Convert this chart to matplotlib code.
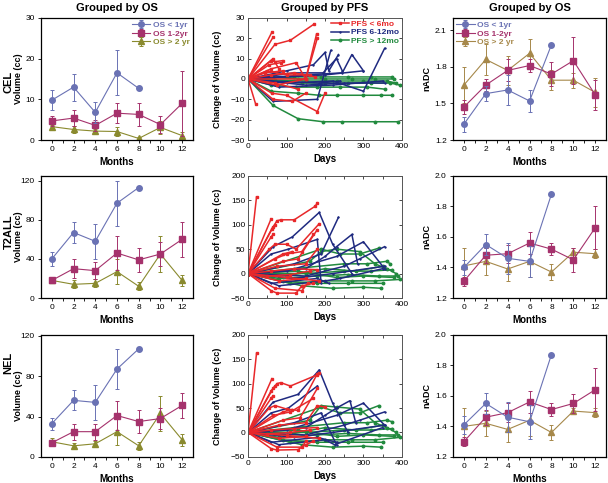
import matplotlib
matplotlib.use("Agg")
import matplotlib.pyplot as plt
import numpy as np

plt.rcParams['font.family'] = ['Liberation Sans', 'DejaVu Sans']

# ---- grouped-by-OS data (months) ----
months_short = [0, 2, 4, 6, 8]
months = [0, 2, 4, 6, 8, 10, 12]

cel_os1 = [9.8, 13.0, 6.8, 16.5, 12.7]
cel_os1_err = [2.4, 3.3, 2.5, 5.5, 0.3]
cel_os12 = [4.7, 5.4, 3.6, 6.6, 6.3, 3.8, 9.0]
cel_os12_err = [1.2, 2.0, 1.3, 2.5, 2.8, 2.0, 8.0]
cel_os2 = [3.3, 2.6, 2.2, 2.1, 0.4, 3.1, 1.1]
cel_os2_err = [0.5, 0.8, 0.6, 1.0, 0.3, 1.5, 1.0]

t2_os1 = [40, 67, 58, 97, 113]
t2_os1_err = [7, 11, 18, 23, 2]
t2_os12 = [18, 30, 28, 46, 39, 45, 60]
t2_os12_err = [3, 10, 9, 17, 12, 12, 18]
t2_os2 = [18, 14, 15, 27, 12, 45, 18]
t2_os2_err = [3, 4, 4, 13, 4, 18, 6]

nel_os1 = [33, 56, 54, 87, 107]
nel_os1_err = [6, 10, 17, 20, 1]
nel_os12 = [14, 25, 25, 41, 35, 38, 51]
nel_os12_err = [3, 8, 8, 14, 11, 10, 12]
nel_os2 = [15, 11, 13, 25, 11, 43, 17]
nel_os2_err = [4, 3, 3, 13, 4, 17, 6]

adc_cel_os1 = [1.33, 1.58, 1.61, 1.52, 1.98]
adc_cel_os1_err = [0.06, 0.06, 0.12, 0.09, 0.01]
adc_cel_os12 = [1.47, 1.65, 1.77, 1.81, 1.74, 1.85, 1.57]
adc_cel_os12_err = [0.06, 0.05, 0.09, 0.05, 0.10, 0.19, 0.12]
adc_cel_os2 = [1.65, 1.86, 1.77, 1.91, 1.69, 1.69, 1.59]
adc_cel_os2_err = [0.15, 0.13, 0.12, 0.12, 0.08, 0.06, 0.12]

adc_t2_os1 = [1.40, 1.55, 1.46, 1.44, 1.88]
adc_t2_os1_err = [0.05, 0.07, 0.10, 0.10, 0.005]
adc_t2_os12 = [1.31, 1.48, 1.49, 1.56, 1.52, 1.45, 1.66]
adc_t2_os12_err = [0.03, 0.05, 0.06, 0.07, 0.04, 0.08, 0.14]
adc_t2_os2 = [1.41, 1.44, 1.39, 1.44, 1.37, 1.50, 1.49]
adc_t2_os2_err = [0.12, 0.09, 0.08, 0.10, 0.05, 0.03, 0.03]

adc_nel_os1 = [1.41, 1.55, 1.46, 1.43, 1.87]
adc_nel_os1_err = [0.06, 0.07, 0.10, 0.11, 0.005]
adc_nel_os12 = [1.30, 1.46, 1.49, 1.56, 1.51, 1.55, 1.64]
adc_nel_os12_err = [0.03, 0.05, 0.06, 0.07, 0.04, 0.06, 0.14]
adc_nel_os2 = [1.40, 1.42, 1.38, 1.44, 1.36, 1.50, 1.49]
adc_nel_os2_err = [0.12, 0.08, 0.08, 0.10, 0.05, 0.02, 0.03]

# ---- grouped-by-PFS data (days, change of volume) ----
cel_pfs6 = [
    ([0, 62], [0, 23]),
    ([0, 65], [0, 20.5]),
    ([0, 70, 110, 172], [0, 17, 19, 27]),
    ([0, 60, 70, 90], [0, 9, 8.5, 9]),
    ([0, 55, 85], [0, 7, 8]),
    ([0, 60, 125, 150, 178], [0, 5, 8, 0, 22]),
    ([0, 150, 180], [0, 0, 20]),
    ([0, 20], [0, -12.5]),
    ([0, 65, 115, 150], [0, -10, -11, -7]),
    ([0, 62, 100, 180, 200], [0, -7, -8, -16, -7]),
    ([0, 70, 130], [0, -2, -5]),
    ([0, 60, 120, 175], [0, 2, 3, 1]),
    ([0, 50, 100, 160], [0, 4, 2, 2]),
    ([0, 75, 150], [0, -3, 0]),
    ([0, 65, 80], [0, 10, 5]),
    ([0, 45, 90], [0, 3, 4]),
]
cel_pfs12 = [
    ([0, 65, 180, 215], [0, -11, -10, 14]),
    ([0, 100, 170, 200, 210, 235], [0, 4, 7, 13, 4, 12]),
    ([0, 120, 195, 230, 245], [0, 3, 3, 10, 4]),
    ([0, 150, 245, 270, 300], [0, 2, 3, 12, 4]),
    ([0, 200, 300], [0, 2, 4]),
    ([0, 100, 220, 300, 355], [0, -2, -1, -6, 15]),
    ([0, 150, 250, 355], [0, -3, -2, -2]),
    ([0, 60, 185, 240], [0, -1, -2, -1]),
    ([0, 80, 220, 350], [0, -4, -3, -1]),
]
cel_pfs_gt12 = [
    ([0, 65, 130, 195, 245, 330, 390], [0, -13, -19.5, -21, -21, -21, -21]),
    ([0, 60, 130, 185, 230, 300, 345, 375], [0, -6, -7, -8, -8, -8, -8, -8]),
    ([0, 60, 125, 180, 240, 310, 355], [0, -3, -4, -4, -4, -4, -5]),
    ([0, 70, 140, 200, 260, 320, 370, 395], [0, -1, -2, -2, -2, -2, -2, -3]),
    ([0, 65, 130, 200, 270, 330, 380], [0, 1, 0, 0, 0, 0, 0]),
    ([0, 60, 120, 190, 260, 320, 375], [0, 0.5, 1, 1, 1, 1, 1]),
    ([0, 70, 150, 230, 300, 360, 385], [0, -0.5, -1, -1, -1, -1, -2]),
]

t2_pfs6 = [
    ([0, 22], [0, 157]),
    ([0, 60], [0, 112]),
    ([0, 65, 75, 85, 120, 175, 180], [0, 95, 108, 110, 110, 138, 145]),
    ([0, 62, 70], [0, 92, 100]),
    ([0, 60, 65], [0, 75, 80]),
    ([0, 55, 70, 100, 125, 185], [0, 50, 60, 60, 50, 102]),
    ([0, 70, 100, 140, 170], [0, 30, 40, 45, 80]),
    ([0, 90, 130, 180], [0, 25, 30, 90]),
    ([0, 75, 150, 180], [0, 15, 20, 50]),
    ([0, 60, 120, 180], [0, 5, 10, 8]),
    ([0, 60, 75, 125, 140, 170], [0, -35, -40, -40, -25, -20]),
    ([0, 70, 140, 155], [0, -30, -35, -20]),
    ([0, 80, 150], [0, -15, -10]),
    ([0, 50, 110, 160], [0, -5, -2, 5]),
    ([0, 90, 115], [0, 40, 45]),
    ([0, 100, 185], [0, -8, -15]),
]
t2_pfs12 = [
    ([0, 65, 115, 185, 220, 270], [0, 55, 75, 125, 60, 0]),
    ([0, 60, 105, 180, 190], [0, 40, 50, 70, -20]),
    ([0, 120, 190, 235], [0, 20, 40, 115]),
    ([0, 150, 200, 230, 270, 285], [0, 10, 35, 55, 80, 20]),
    ([0, 100, 230, 300, 355], [0, 5, 35, 65, 10]),
    ([0, 150, 250, 290, 355], [0, -5, 15, 30, 55]),
    ([0, 80, 200, 240, 350], [0, -25, -15, -10, 10]),
    ([0, 120, 220, 355], [0, -10, 0, 15]),
    ([0, 60, 180, 210], [0, -20, -10, -20]),
]
t2_pfs_gt12 = [
    ([0, 160, 190, 230, 290, 330, 360], [0, 25, 45, 50, 45, 20, 10]),
    ([0, 190, 240, 290, 340], [0, 50, 40, 40, 52]),
    ([0, 120, 250, 310, 360, 370], [0, 10, 20, 20, 25, 20]),
    ([0, 100, 200, 280, 350, 385], [0, -5, 10, 5, 15, 0]),
    ([0, 80, 180, 260, 340, 390], [0, -10, -5, -2, -5, -5]),
    ([0, 110, 200, 270, 330, 395], [0, -20, -15, -15, -15, -12]),
    ([0, 140, 220, 300, 345], [0, -25, -30, -28, -30]),
    ([0, 90, 180, 260, 350], [0, -15, -20, -20, -20]),
    ([0, 150, 250, 320, 375], [0, 0, 5, 5, 8]),
    ([0, 130, 230, 300, 380], [0, 5, -8, -5, -8]),
]

nel_pfs6 = [
    ([0, 22], [0, 162]),
    ([0, 62], [0, 110]),
    ([0, 65, 75, 85, 110, 180, 185], [0, 90, 100, 102, 95, 118, 122]),
    ([0, 60, 70], [0, 85, 95]),
    ([0, 60, 65], [0, 70, 75]),
    ([0, 55, 70, 100, 130, 180], [0, 50, 55, 48, 45, 120]),
    ([0, 65, 110, 170], [0, 35, 42, 70]),
    ([0, 90, 135, 180], [0, 25, 30, 90]),
    ([0, 80, 150, 180, 200], [0, 15, 20, 55, 52]),
    ([0, 60, 120, 180], [0, 5, 8, 10]),
    ([0, 60, 75, 130, 150, 170], [0, -33, -36, -35, -25, -18]),
    ([0, 75, 140, 150], [0, -30, -30, -18]),
    ([0, 80, 150], [0, -12, -8]),
    ([0, 50, 110, 160], [0, -3, 0, 5]),
    ([0, 90, 115], [0, 42, 47]),
    ([0, 100, 185], [0, -6, -12]),
]
nel_pfs12 = [
    ([0, 65, 130, 185, 220, 260], [0, 62, 78, 128, 60, 0]),
    ([0, 60, 105, 180], [0, 40, 50, 95]),
    ([0, 120, 190, 230], [0, 20, 40, -25]),
    ([0, 150, 200, 230, 265, 280], [0, 10, 35, 50, 65, 20]),
    ([0, 100, 230, 300, 355], [0, 5, 35, 60, 15]),
    ([0, 150, 250, 290, 355], [0, -5, 15, 25, 42]),
    ([0, 80, 200, 225, 350], [0, -25, -15, -25, 10]),
    ([0, 120, 220, 355], [0, -10, 0, 15]),
    ([0, 60, 180, 230], [0, -20, -10, -20]),
]
nel_pfs_gt12 = [
    ([0, 160, 190, 230, 290, 330, 360], [0, 25, 55, 52, 48, 20, 10]),
    ([0, 190, 240, 290, 340], [0, 52, 40, 40, 55]),
    ([0, 120, 250, 310, 360, 375], [0, 10, 20, 20, 25, 22]),
    ([0, 100, 200, 280, 350, 385], [0, -5, 10, 5, 15, 0]),
    ([0, 80, 180, 260, 340, 390], [0, -10, -5, -2, -5, -5]),
    ([0, 110, 200, 270, 330, 395], [0, -20, -15, -15, -15, -10]),
    ([0, 140, 220, 300, 345], [0, -25, -30, -28, -30]),
    ([0, 90, 180, 260, 350], [0, -15, -20, -20, -20]),
    ([0, 150, 250, 320, 375], [0, 0, 5, 5, 8]),
    ([0, 130, 230, 300, 380], [0, 5, -8, -5, -8]),
]

# colours
c_os1 = '#6a72b4'
c_os12 = '#a5326c'
c_os2_vol = '#8a8a2e'
c_os2_adc = '#a6884a'
c_red = '#e8282a'
c_navy = '#1f2a80'
c_green = '#218a3e'

fig = plt.figure(figsize=(6.08, 4.83), dpi=100)

rows_b = [0.710, 0.383, 0.054]
row_h = 0.253
cols_l = [0.0674, 0.408, 0.745]
col_w = [0.250, 0.253, 0.252]


def os_panel(ax, s1, e1, s12, e12, s2, e2, c2, ylim, yticks, legend_loc=None):
    kw = dict(capsize=1.5, elinewidth=0.7, capthick=0.7, lw=0.8)
    ax.errorbar(months, s2, yerr=e2, color=c2, marker='^', ms=4, label='OS > 2 yr', zorder=2, **kw)
    ax.errorbar(months, s12, yerr=e12, color=c_os12, marker='s', ms=4, label='OS 1-2yr', zorder=3, **kw)
    ax.errorbar(months_short, s1, yerr=e1, color=c_os1, marker='o', ms=4, label='OS < 1yr', zorder=4, **kw)
    ax.set_xlim(-1, 13)
    ax.set_ylim(*ylim)
    ax.set_yticks(yticks)
    ax.set_xticks(months)
    ax.set_xticks([1, 3, 5, 7, 9, 11], minor=True)
    ax.tick_params(labelsize=6, length=2.5, width=0.6, direction='out', pad=2)
    ax.tick_params(which='minor', length=2.5, width=0.6)
    ax.set_xlabel('Months', fontsize=7, fontweight='bold', labelpad=3)
    for s in ax.spines.values():
        s.set_linewidth(0.9)
    if legend_loc:
        h, l = ax.get_legend_handles_labels()
        order = [2, 1, 0]
        leg = ax.legend([h[i] for i in order], [l[i] for i in order], loc=legend_loc,
                        frameon=False, fontsize=6, handlelength=2.2, borderpad=0.2,
                        labelspacing=0.1, handletextpad=0.3, borderaxespad=0.2)
        for txt, col in zip(leg.get_texts(), [c_os1, c_os12, c2]):
            txt.set_color(col)
            txt.set_fontweight('bold')


def pfs_panel(ax, g1, g2, g3, ylim, yticks, legend=False):
    for i, (d, v) in enumerate(g3):
        ax.plot(d, v, color=c_green, lw=1.1, marker='o', ms=1.8,
                label='PFS > 12mo' if i == 0 else None)
    for i, (d, v) in enumerate(g2):
        ax.plot(d, v, color=c_navy, lw=1.1, marker='+', ms=2,
                label='PFS 6-12mo' if i == 0 else None)
    for i, (d, v) in enumerate(g1):
        ax.plot(d, v, color=c_red, lw=1.1, marker='s', ms=1.8,
                label='PFS < 6mo' if i == 0 else None)
    ax.set_xlim(0, 400)
    ax.set_ylim(*ylim)
    ax.set_yticks(yticks)
    ax.set_xticks([0, 100, 200, 300, 400])
    ax.set_xticks([50, 150, 250, 350], minor=True)
    ax.tick_params(which='both', labelsize=6, length=2, width=0.5, direction='in',
                   top=True, right=True, pad=2)
    ax.set_xlabel('Days', fontsize=7, fontweight='bold', labelpad=3)
    ax.set_ylabel('Change of Volume (cc)', fontsize=6.5, fontweight='bold')
    ax.yaxis.set_label_coords(-0.17, 0.5)
    for s in ax.spines.values():
        s.set_linewidth(0.7)
        s.set_color('#555555')
    if legend:
        h, l = ax.get_legend_handles_labels()
        order = [2, 1, 0]
        leg = ax.legend([h[i] for i in order], [l[i] for i in order], loc='upper right',
                        frameon=False, fontsize=6, handlelength=2.2, borderpad=0.1,
                        labelspacing=0.05, handletextpad=0.3, borderaxespad=0.2)
        for txt, col in zip(leg.get_texts(), [c_red, c_navy, c_green]):
            txt.set_color(col)
            txt.set_fontweight('bold')


axes = [[fig.add_axes([cols_l[c], rows_b[r], col_w[c], row_h]) for c in range(3)] for r in range(3)]

# left column: volumes
os_panel(axes[0][0], cel_os1, cel_os1_err, cel_os12, cel_os12_err, cel_os2, cel_os2_err,
         c_os2_vol, (0, 30), [0, 10, 20, 30], legend_loc='upper right')
os_panel(axes[1][0], t2_os1, t2_os1_err, t2_os12, t2_os12_err, t2_os2, t2_os2_err,
         c_os2_vol, (0, 125), [0, 40, 80, 120])
os_panel(axes[2][0], nel_os1, nel_os1_err, nel_os12, nel_os12_err, nel_os2, nel_os2_err,
         c_os2_vol, (0, 121), [0, 40, 80, 120])
for r in range(3):
    axes[r][0].set_ylabel('Volume (cc)', fontsize=6.5, fontweight='bold')
    axes[r][0].yaxis.set_label_coords(-0.115, 0.5)

# middle column: change of volume
pfs_panel(axes[0][1], cel_pfs6, cel_pfs12, cel_pfs_gt12, (-30, 30), [-30, -20, -10, 0, 10, 20, 30], legend=True)
pfs_panel(axes[1][1], t2_pfs6, t2_pfs12, t2_pfs_gt12, (-50, 200), [-50, 0, 50, 100, 150, 200])
pfs_panel(axes[2][1], nel_pfs6, nel_pfs12, nel_pfs_gt12, (-50, 200), [-50, 0, 50, 100, 150, 200])

# right column: nADC
os_panel(axes[0][2], adc_cel_os1, adc_cel_os1_err, adc_cel_os12, adc_cel_os12_err, adc_cel_os2,
         adc_cel_os2_err, c_os2_adc, (1.2, 2.2), [1.2, 1.5, 1.8, 2.1], legend_loc='upper left')
os_panel(axes[1][2], adc_t2_os1, adc_t2_os1_err, adc_t2_os12, adc_t2_os12_err, adc_t2_os2,
         adc_t2_os2_err, c_os2_adc, (1.2, 2.0), [1.2, 1.4, 1.6, 1.8, 2.0])
os_panel(axes[2][2], adc_nel_os1, adc_nel_os1_err, adc_nel_os12, adc_nel_os12_err, adc_nel_os2,
         adc_nel_os2_err, c_os2_adc, (1.2, 2.0), [1.2, 1.4, 1.6, 1.8, 2.0])
for r in range(3):
    axes[r][2].set_ylabel('nADC', fontsize=6.5, fontweight='bold')
    axes[r][2].yaxis.set_label_coords(-0.14, 0.5)

axes[0][0].set_title('Grouped by OS', fontsize=8, fontweight='bold', pad=5)
axes[0][1].set_title('Grouped by PFS', fontsize=8, fontweight='bold', pad=5)
axes[0][2].set_title('Grouped by OS', fontsize=8, fontweight='bold', pad=5)

fig.text(0.014, 0.830, 'CEL', rotation=90, fontsize=8, fontweight='bold', ha='center', va='center')
fig.text(0.014, 0.520, 'T2ALL', rotation=90, fontsize=8, fontweight='bold', ha='center', va='center')
fig.text(0.014, 0.248, 'NEL', rotation=90, fontsize=8, fontweight='bold', ha='center', va='center')

fig.savefig('out.png', dpi=100)
